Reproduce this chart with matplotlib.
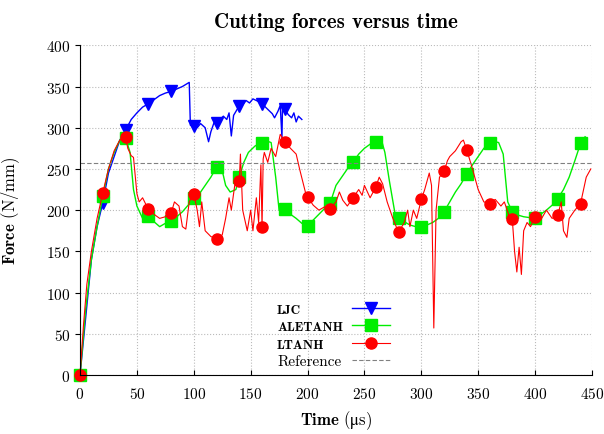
import numpy as np
import matplotlib.pyplot as plt

plt.rcParams['font.family'] = 'serif'
plt.rcParams['font.serif'] = ['cmr10']
plt.rcParams['mathtext.fontset'] = 'custom'
plt.rcParams['mathtext.rm'] = 'cmr10'
plt.rcParams['mathtext.bf'] = 'cmb10'
plt.rcParams['mathtext.it'] = 'cmmi10'
plt.rcParams['mathtext.fallback'] = 'stix'
plt.rcParams['axes.formatter.use_mathtext'] = True

# LJC (blue)
t_ljc = [0, 5, 10, 15, 20, 25, 30, 35, 40, 45, 50, 55, 60, 65, 70, 75, 80, 85, 90, 96,
         97, 100, 103, 106, 110, 113, 115, 118, 120, 123, 126, 129, 131, 133, 135, 138,
         140, 143, 146, 149, 152, 155, 158, 160, 163, 166, 169, 171, 174, 176, 177.5,
         178, 180, 183, 186, 188, 190, 192, 195]
f_ljc = [0, 70, 140, 180, 209, 245, 265, 285, 297, 310, 318, 325, 329, 334, 339, 342, 344,
         347, 350, 355, 303, 302, 300, 305, 300, 283, 295, 307, 306, 310, 314, 310, 318,
         290, 315, 322, 326, 328, 333, 330, 335, 333, 331, 329, 325, 321, 317, 312, 320,
         327, 288, 324, 323, 316, 312, 318, 307, 314, 310]

# ALETANH (green)
t_ale = [0, 5, 10, 15, 20, 25, 30, 35, 40, 44, 47, 50, 55, 60, 65, 70, 75, 80, 85, 90, 95,
         100, 105, 110, 115, 120, 125, 128, 132, 137, 140, 144, 148, 154, 160, 164, 168,
         172, 175, 180, 185, 190, 195, 200, 205, 210, 215, 220, 225, 230, 235, 240, 245,
         250, 255, 260, 265, 268, 272, 277, 280, 285, 290, 295, 300, 305, 310, 315, 320,
         325, 330, 335, 340, 345, 350, 355, 360, 365, 368, 372, 376, 380, 385, 390, 395,
         400, 405, 410, 415, 420, 425, 430, 435, 440, 444]
f_ale = [0, 80, 140, 180, 217, 250, 270, 285, 288, 270, 225, 205, 190, 193, 186, 180, 184,
         187, 192, 198, 206, 215, 220, 230, 240, 252, 248, 230, 222, 225, 240, 258, 270,
         278, 282, 284, 282, 240, 200, 201, 195, 190, 184, 181, 188, 195, 202, 209, 230,
         240, 250, 258, 268, 275, 280, 283, 285, 270, 235, 195, 191, 186, 182, 180, 180,
         182, 185, 190, 198, 210, 222, 232, 244, 255, 265, 275, 281, 283, 282, 268, 210,
         198, 194, 192, 191, 191, 195, 200, 206, 214, 225, 240, 260, 281, 289]

# LTANH (red)
t_lta = [0, 3, 6, 10, 15, 20, 25, 30, 35, 40, 42, 45, 47, 50, 52, 55, 60, 65, 70, 75, 80,
         83, 87, 90, 93, 96, 100, 103, 105, 107, 110, 115, 120, 125, 128, 131, 133, 136,
         140, 141, 143, 147, 150, 152, 155, 157, 159, 160, 161, 162, 165, 168, 172, 176,
         180, 185, 190, 193, 199, 200, 205, 210, 215, 220, 225, 228, 231, 235, 240, 245,
         248, 250, 255, 260, 263, 266, 270, 275, 280, 285, 288, 290, 293, 296, 300, 303,
         307, 309, 311, 313, 316, 320, 323, 325, 330, 335, 337, 340, 345, 350, 355, 360,
         365, 370, 373, 378, 380, 382, 384, 386, 388, 390, 393, 396, 400, 405, 410, 415,
         420, 423, 425, 428, 430, 435, 440, 445, 449]
f_lta = [0, 60, 110, 150, 190, 221, 250, 272, 285, 289, 275, 266, 264, 220, 210, 215, 201,
         195, 190, 192, 196, 210, 205, 180, 177, 210, 220, 200, 180, 210, 175, 168, 165,
         170, 190, 215, 200, 230, 235, 268, 200, 175, 200, 175, 215, 185, 255, 179, 262,
         270, 258, 275, 265, 292, 283, 275, 268, 250, 217, 216, 206, 200, 204, 202, 210,
         222, 212, 205, 215, 225, 218, 230, 215, 228, 240, 232, 210, 190, 173, 185, 200,
         180, 200, 190, 213, 225, 245, 230, 57, 200, 240, 247, 260, 265, 272, 283, 285,
         273, 250, 225, 210, 208, 213, 205, 210, 190, 189, 150, 125, 155, 122, 175, 185,
         180, 192, 188, 200, 190, 194, 210, 175, 167, 190, 200, 208, 240, 250]

reference = 257
marker_t = np.arange(0, 460, 20)


def mark_idx(t):
    return list(np.where(np.isin(np.array(t, dtype=float), marker_t))[0])


fig = plt.figure(figsize=(6.04, 4.35), dpi=100)
ax = fig.add_axes([0.1325, 0.1356, 0.8475, 0.758])

ax.plot(t_ljc, f_ljc, color='#0000ff', lw=1.0, marker='v', ms=8,
        markevery=[i for i in mark_idx(t_ljc) if t_ljc[i] > 0], label='LJC', clip_on=False)
ax.plot(t_ale, f_ale, color='#00ee00', lw=1.0, marker='s', ms=8,
        markevery=mark_idx(t_ale), label='ALETANH', clip_on=False)
ax.plot(t_lta, f_lta, color='#ff0000', lw=0.8, marker='o', ms=8,
        markevery=mark_idx(t_lta), label='LTANH', clip_on=False)
ax.axhline(reference, color='gray', ls=(0, (4, 2)), lw=0.8, label='Reference')

ax.set_xlim(0, 450)
ax.set_ylim(0, 400)
ax.set_xticks(np.arange(0, 451, 50))
ax.set_yticks(np.arange(0, 401, 50))
ax.grid(True, ls=':', color='#bbbbbb', lw=0.8)
ax.spines['top'].set_visible(False)
ax.spines['right'].set_visible(False)
ax.tick_params(axis='y', direction='out', labelsize=11)
ax.tick_params(axis='x', direction='in', labelsize=11, pad=8)

ax.set_title('Cutting forces versus time', family='cmb10', fontsize=15, pad=13)
ax.set_xlabel(r'$\mathbf{Time}$ ($\mathrm{\mu}$s)', fontsize=12, labelpad=5)
ax.set_ylabel(r'$\mathbf{Force}$ (N/mm)', fontsize=12, labelpad=17)

leg = ax.legend(loc='lower left', bbox_to_anchor=(0.385, 0.02), frameon=False,
                markerfirst=False, handlelength=2.5, handletextpad=0.6,
                fontsize=11, labelspacing=0.25, borderpad=0, borderaxespad=0)
texts = leg.get_texts()
for txt in texts[:3]:
    txt.set_fontfamily('cmb10')
    txt.set_fontsize(9.5)

# left-align the labels (rows are right-aligned when markerfirst=False)
fig.canvas.draw()
renderer = fig.canvas.get_renderer()
widths = [txt.get_window_extent(renderer).width for txt in texts]
for txt, w in zip(texts, widths):
    txt.set_x(-(max(widths) - w))

fig.savefig('out.png', dpi=100)
